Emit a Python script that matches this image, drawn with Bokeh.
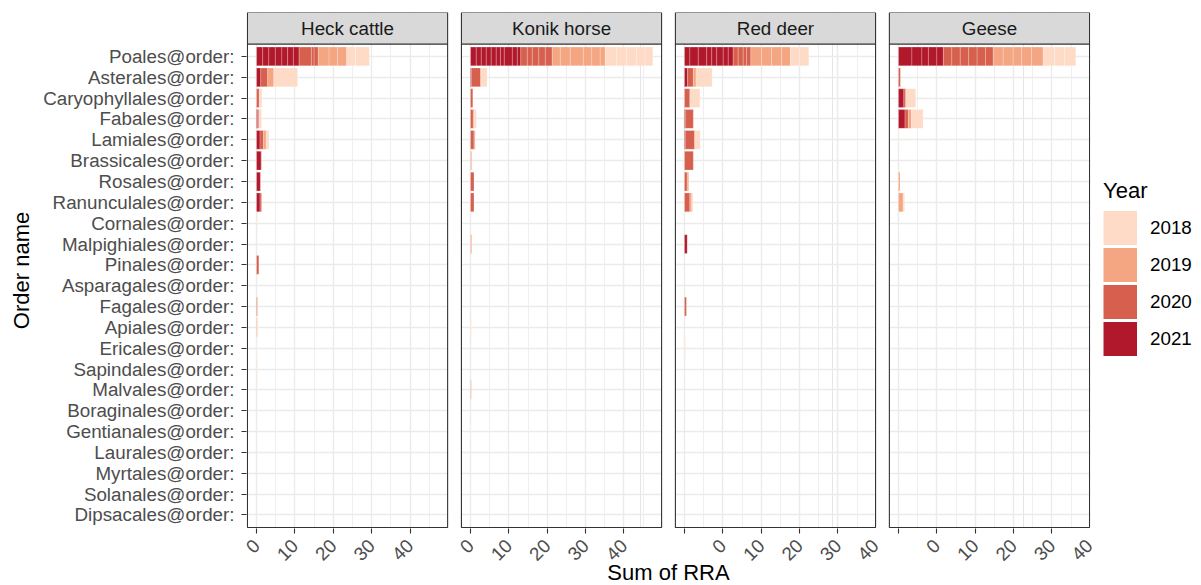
import math

from bokeh.core.properties import value
from bokeh.embed import file_html
from bokeh.models import (ColumnDataSource, FixedTicker, Grid, Legend,
                          LegendItem, LinearAxis, Range1d)
from bokeh.plotting import figure
from bokeh.resources import INLINE

FONT = "Liberation Sans"

orders = ["Poales", "Asterales", "Caryophyllales", "Fabales", "Lamiales",
          "Brassicales", "Rosales", "Ranunculales", "Cornales", "Malpighiales",
          "Pinales", "Asparagales", "Fagales", "Apiales", "Ericales",
          "Sapindales", "Malvales", "Boraginales", "Gentianales", "Laurales",
          "Myrtales", "Solanales", "Dipsacales"]
order_labels = [f"{o}@order:" for o in orders]

animals = ["Heck cattle", "Konik horse", "Red deer", "Geese"]
years = ["2018", "2019", "2020", "2021"]
year_colors = ["#FDDBC7", "#F4A582", "#D6604D", "#B2182B"]
stack_years = ["2021", "2020", "2019", "2018"]  # left-to-right order in a bar

x_ticks = [0, 10, 20, 30, 40]
x_minor = [5, 15, 25, 35, 45]
x_tick_text = ["0", "10", "20", "30", "40"]

# Poales: RRA of the individual samples, per year
heck_poales_2021 = [1.6, 1.6, 1.7, 1.7, 1.5, 1.5, 1.5]
heck_poales_2020 = [3.2, 0.7, 1.1]
heck_poales_2019 = [2.8, 2.2, 2.4]
heck_poales_2018 = [2.3, 3.6]

konik_poales_2021 = [1.5, 1.3, 1.3, 1.3, 1.3, 1.1, 1.0, 2.1, 1.3, 0.9]
konik_poales_2020 = [1.7, 1.3, 1.7, 1.7, 1.8]
konik_poales_2019 = [2.1, 2.6, 3.4, 2.2, 2.2, 1.3]
konik_poales_2018 = [3.0, 2.6, 2.6, 2.2, 2.0]

deer_poales_2021 = [1.4, 2.2, 2.2, 1.3, 1.3, 1.7, 1.3, 1.3]
deer_poales_2020 = [1.3, 1.3, 0.9, 1.1]
deer_poales_2019 = [2.8, 2.6, 2.6, 2.3]
deer_poales_2018 = [2.4, 2.4]

geese_poales_2021 = [3.5, 2.6, 1.7, 2.2, 1.7]
geese_poales_2020 = [2.2, 2.2, 2.2, 2.2, 2.2, 2.0]
geese_poales_2019 = [2.6, 2.6, 2.2, 2.6, 3.0]
geese_poales_2018 = [3.0, 2.6, 2.9]

# Remaining orders (Asterales ... Dipsacales): summed RRA per year
#             Ast  Car  Fab  Lam  Bra  Ros  Ran  Cor  Mlp  Pin  Asp  Fag  Api  Eri  Sap  Mlv  Bor  Gen  Lau  Myr  Sol  Dip
heck_2021  = [1.1, 0.0, 0.3, 0.9, 1.2, 1.0, 0.9, 0.0, 0.0, 0.0, 0.0, 0.0, 0.0, 0.0, 0.0, 0.0, 0.0, 0.0, 0.0, 0.0, 0.0, 0.0]
heck_2020  = [1.8, 0.7, 0.3, 0.9, 0.1, 0.1, 0.4, 0.0, 0.0, 0.6, 0.0, 0.2, 0.0, 0.0, 0.0, 0.0, 0.0, 0.0, 0.0, 0.0, 0.0, 0.0]
heck_2019  = [1.6, 0.1, 0.2, 0.7, 0.0, 0.0, 0.0, 0.0, 0.0, 0.0, 0.0, 0.1, 0.2, 0.0, 0.0, 0.0, 0.0, 0.0, 0.0, 0.0, 0.0, 0.0]
heck_2018  = [6.2, 0.6, 0.5, 0.7, 0.0, 0.0, 0.0, 0.2, 0.0, 0.0, 0.0, 0.0, 0.2, 0.1, 0.2, 0.0, 0.0, 0.0, 0.0, 0.0, 0.0, 0.0]

konik_2021 = [0.2, 0.0, 0.0, 0.0, 0.0, 0.0, 0.0, 0.0, 0.0, 0.0, 0.0, 0.0, 0.0, 0.0, 0.0, 0.0, 0.0, 0.0, 0.0, 0.0, 0.0, 0.0]
konik_2020 = [2.4, 0.6, 0.7, 0.9, 0.0, 0.9, 0.9, 0.0, 0.0, 0.0, 0.0, 0.0, 0.0, 0.0, 0.0, 0.0, 0.0, 0.0, 0.0, 0.0, 0.0, 0.0]
konik_2019 = [0.3, 0.0, 0.3, 0.3, 0.3, 0.0, 0.0, 0.0, 0.3, 0.0, 0.0, 0.0, 0.0, 0.0, 0.0, 0.2, 0.0, 0.0, 0.0, 0.0, 0.0, 0.0]
konik_2018 = [1.4, 0.0, 0.5, 0.0, 0.0, 0.0, 0.0, 0.0, 0.0, 0.0, 0.0, 0.0, 0.2, 0.0, 0.0, 0.0, 0.0, 0.1, 0.0, 0.0, 0.0, 0.0]

deer_2021  = [0.8, 0.0, 0.3, 0.2, 0.0, 0.0, 0.0, 0.0, 0.7, 0.0, 0.0, 0.0, 0.0, 0.0, 0.0, 0.0, 0.0, 0.0, 0.0, 0.0, 0.0, 0.0]
deer_2020  = [1.5, 1.4, 2.0, 2.4, 2.3, 0.7, 1.4, 0.0, 0.0, 0.0, 0.0, 0.5, 0.0, 0.0, 0.0, 0.0, 0.0, 0.0, 0.0, 0.0, 0.0, 0.0]
deer_2019  = [0.7, 0.0, 0.0, 0.3, 0.0, 0.4, 0.5, 0.0, 0.0, 0.0, 0.0, 0.0, 0.0, 0.0, 0.0, 0.0, 0.0, 0.0, 0.0, 0.0, 0.0, 0.0]
deer_2018  = [4.2, 2.6, 0.0, 1.2, 0.0, 0.0, 0.3, 0.0, 0.0, 0.0, 0.0, 0.0, 0.0, 0.2, 0.0, 0.0, 0.0, 0.0, 0.0, 0.0, 0.0, 0.0]

geese_2021 = [0.0, 1.4, 1.7, 0.0, 0.0, 0.0, 0.0, 0.0, 0.0, 0.0, 0.0, 0.0, 0.0, 0.0, 0.0, 0.0, 0.0, 0.0, 0.0, 0.0, 0.0, 0.0]
geese_2020 = [0.5, 0.5, 0.9, 0.0, 0.0, 0.0, 0.0, 0.0, 0.0, 0.0, 0.0, 0.0, 0.0, 0.0, 0.0, 0.0, 0.0, 0.0, 0.0, 0.0, 0.0, 0.0]
geese_2019 = [0.0, 0.0, 0.8, 0.0, 0.0, 0.4, 1.2, 0.0, 0.0, 0.0, 0.0, 0.0, 0.0, 0.0, 0.0, 0.0, 0.0, 0.0, 0.0, 0.0, 0.0, 0.0]
geese_2018 = [0.0, 2.6, 3.0, 0.1, 0.0, 0.0, 0.4, 0.0, 0.0, 0.0, 0.0, 0.0, 0.0, 0.0, 0.0, 0.0, 0.0, 0.0, 0.0, 0.0, 0.0, 0.0]

poales = {
    "Heck cattle": {"2021": heck_poales_2021, "2020": heck_poales_2020,
                    "2019": heck_poales_2019, "2018": heck_poales_2018},
    "Konik horse": {"2021": konik_poales_2021, "2020": konik_poales_2020,
                    "2019": konik_poales_2019, "2018": konik_poales_2018},
    "Red deer": {"2021": deer_poales_2021, "2020": deer_poales_2020,
                 "2019": deer_poales_2019, "2018": deer_poales_2018},
    "Geese": {"2021": geese_poales_2021, "2020": geese_poales_2020,
              "2019": geese_poales_2019, "2018": geese_poales_2018},
}
others = {
    "Heck cattle": {"2021": heck_2021, "2020": heck_2020, "2019": heck_2019, "2018": heck_2018},
    "Konik horse": {"2021": konik_2021, "2020": konik_2020, "2019": konik_2019, "2018": konik_2018},
    "Red deer": {"2021": deer_2021, "2020": deer_2020, "2019": deer_2019, "2018": deer_2018},
    "Geese": {"2021": geese_2021, "2020": geese_2020, "2019": geese_2019, "2018": geese_2018},
}
color_of = dict(zip(years, year_colors))

# ---- facet geometry (data units of the shared x scale) ----
X_START, X_END = -2.37, 49.8          # x limits of one panel
PANEL_SPAN = X_END - X_START
GAP = 3.6                             # space between panels
MARGIN = 0.25
offsets = [k * (PANEL_SPAN + GAP) for k in range(len(animals))]
Y_BOTTOM, Y_PANEL_TOP, Y_STRIP_TOP = 22.6, -0.6, -2.11
Y_FRAME_BOTTOM = 22.65

GRID_COLOR = "#EBEBEB"
TICK_COLOR = "#333333"
LABEL_GREY = "#4D4D4D"
TEXT_SIZE = "18.8px"
TITLE_SIZE = "22px"

# ---- stacked segments for every panel ----
seg = dict(y=[], left=[], right=[], color=[], year=[])


def push(i, start, v, yr):
    seg["y"].append(i)
    seg["left"].append(start)
    seg["right"].append(start + v)
    seg["color"].append(color_of[yr])
    seg["year"].append(yr)


for off, animal in zip(offsets, animals):
    x = 0.0
    for yr in stack_years:
        for v in poales[animal][yr]:
            push(0, off + x, v, yr)
            x += v
    for i in range(1, len(orders)):
        x = 0.0
        for yr in stack_years:
            v = others[animal][yr][i - 1]
            if v > 0:
                push(i, off + x, v, yr)
                x += v
source = ColumnDataSource(seg)

x_lo = X_START - MARGIN
x_hi = offsets[-1] + X_END + MARGIN
p = figure(title=None, frame_width=844, frame_height=516,
           x_range=Range1d(x_lo, x_hi),
           y_range=Range1d(Y_FRAME_BOTTOM, Y_STRIP_TOP),
           x_axis_location=None, y_axis_location="left",
           min_border_left=246, min_border_right=111,
           min_border_top=12, min_border_bottom=57,
           output_backend="svg", toolbar_location=None,
           background_fill_color="white", border_fill_color="white")
p.outline_line_color = None

# grid lines for every panel
major_pos = [off + t for off in offsets for t in x_ticks]
minor_pos = [off + t for off in offsets for t in x_minor]
p.add_layout(Grid(dimension=0, ticker=FixedTicker(ticks=major_pos, minor_ticks=minor_pos),
                  grid_line_color=GRID_COLOR, grid_line_width=1.4,
                  minor_grid_line_color=GRID_COLOR, minor_grid_line_width=0.8))
p.add_layout(Grid(dimension=1, ticker=FixedTicker(ticks=list(range(len(orders)))),
                  grid_line_color=GRID_COLOR, grid_line_width=1.4))

# blank space around and between the panels
blank_left = [x_lo - 1] + [off + X_END for off in offsets]
blank_right = [X_START] + [off + X_START for off in offsets[1:]] + [x_hi + 1]
p.quad(left=blank_left, right=blank_right, top=Y_STRIP_TOP - 1, bottom=Y_FRAME_BOTTOM + 1,
       fill_color="white", line_color=None)
p.quad(left=x_lo - 1, right=x_hi + 1, top=Y_BOTTOM, bottom=Y_FRAME_BOTTOM + 1,
       fill_color="white", line_color=None)

p.hbar(y="y", left="left", right="right", height=0.9, source=source,
       fill_color="color", line_color="white", line_width=0.4, line_alpha=0.55)

# panel borders and facet strips
p.quad(left=[off + X_START for off in offsets], right=[off + X_END for off in offsets],
       top=Y_PANEL_TOP, bottom=Y_BOTTOM, fill_color=None,
       line_color=TICK_COLOR, line_width=1.1)
p.quad(left=[off + X_START for off in offsets], right=[off + X_END for off in offsets],
       top=Y_STRIP_TOP, bottom=Y_PANEL_TOP, fill_color="#D9D9D9",
       line_color=TICK_COLOR, line_width=1.1)
p.text(x=[off + (X_START + X_END) / 2 for off in offsets],
       y=[(Y_STRIP_TOP + Y_PANEL_TOP) / 2] * len(animals), text=animals,
       text_align="center", text_baseline="middle",
       text_font=value(FONT), text_font_size=TEXT_SIZE, text_color="#1A1A1A")

# x axis: tick marks at the breaks; labels on a second axis
ticks_only = LinearAxis(ticker=FixedTicker(ticks=major_pos),
                        major_label_overrides={t: "" for t in major_pos},
                        major_label_text_font_size="0px", major_label_standoff=0,
                        major_tick_out=5, major_tick_in=0,
                        minor_tick_out=0, minor_tick_in=0,
                        major_tick_line_color=TICK_COLOR, major_tick_line_width=1.1,
                        axis_line_color=None)
label_pos, label_text = [], []
for k, off in enumerate(offsets):
    pos = x_ticks if k < 2 else [10, 20, 30, 40, 49.75]
    label_pos += [off + t for t in pos]
    label_text += x_tick_text
labels_only = LinearAxis(ticker=FixedTicker(ticks=label_pos),
                         major_label_overrides=dict(zip(label_pos, label_text)),
                         major_tick_line_color=None, major_tick_out=0, major_tick_in=0,
                         minor_tick_out=0, minor_tick_in=0, axis_line_color=None,
                         major_label_orientation=math.pi / 4,
                         major_label_standoff=9,
                         major_label_text_font=FONT,
                         major_label_text_font_size=TEXT_SIZE,
                         major_label_text_color=LABEL_GREY,
                         axis_label="Sum of RRA", axis_label_standoff=-9,
                         axis_label_text_font=FONT, axis_label_text_font_size=TITLE_SIZE,
                         axis_label_text_font_style="normal", axis_label_text_color="black")
p.add_layout(ticks_only, "below")
p.add_layout(labels_only, "below")

# y axis with the order names
ax = p.yaxis[0]
ax.ticker = FixedTicker(ticks=list(range(len(orders))))
ax.major_label_overrides = {i: lab for i, lab in enumerate(order_labels)}
ax.major_label_text_font = FONT
ax.major_label_text_font_size = TEXT_SIZE
ax.major_label_text_color = LABEL_GREY
ax.major_label_standoff = 7
ax.major_tick_out = 5
ax.major_tick_in = 0
ax.major_tick_line_color = TICK_COLOR
ax.major_tick_line_width = 1.1
ax.minor_tick_line_color = None
ax.axis_line_color = None
ax.axis_label = "Order name"
ax.axis_label_text_font = FONT
ax.axis_label_text_font_size = TITLE_SIZE
ax.axis_label_text_font_style = "normal"
ax.axis_label_text_color = "black"
ax.axis_label_standoff = 6

# legend keys: thick butt-capped lines fill the key box exactly;
# the proxies sit outside the visible x range
KEY = 34
items = []
for yr, col in zip(years, year_colors):
    r = p.line(x=[x_lo - 20, x_lo - 10], y=[0, 0], line_color=col,
               line_width=KEY, line_cap="butt")
    items.append(LegendItem(label=yr, renderers=[r]))
legend = Legend(items=items, title="Year", location=(13, 171),
                title_text_font=FONT, title_text_font_size=TITLE_SIZE,
                title_text_font_style="normal", title_text_color="black",
                title_standoff=5,
                label_text_font=FONT, label_text_font_size=TEXT_SIZE, label_text_color="black",
                glyph_width=KEY, glyph_height=37, label_height=37, spacing=0,
                label_standoff=13, padding=0, margin=0,
                border_line_color=None, background_fill_alpha=0)
p.add_layout(legend, "right")

open("out.html", "w").write(file_html(p, INLINE))
